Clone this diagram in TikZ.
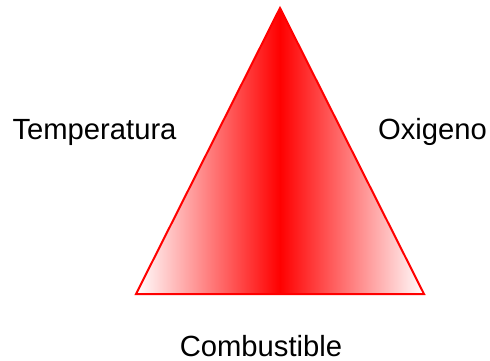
\documentclass[tikz,border=0pt]{standalone}
\usepackage{fontspec}
\setmainfont{Liberation Sans}
\usetikzlibrary{positioning}
\definecolor{fireRed}{HTML}{FF0000}

\begin{document}
\begin{tikzpicture}[
  x=0.5pt, y=-0.5pt,
  label/.style={font=\fontsize{14.6}{18}\selectfont, inner sep=0pt, anchor=base},
]
  \useasboundingbox (0,0) rectangle (490,360);
  \coordinate (top) at (280,8);
  \coordinate (bl) at (136,294);
  \coordinate (br) at (424,294);

  \shade[left color=white, right color=white, middle color=fireRed]
    (top) -- (bl) -- (br) -- cycle;
  \draw[fireRed, line width=1pt, line join=miter] (top) -- (bl) -- (br) -- cycle;

  \node[label] (temp) at (94.5,139) {Temperatura};
  \node[label] (oxi) at (432.5,139) {Oxigeno};
  \node[label] (comb) at (261,356) {Combustible};
\end{tikzpicture}
\end{document}
